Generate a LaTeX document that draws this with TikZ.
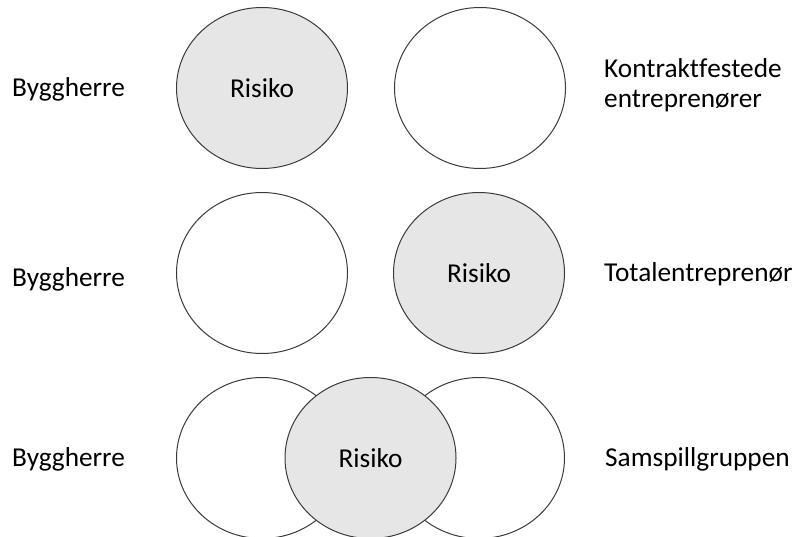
\documentclass[tikz,border=0pt]{standalone}
\usepackage{fontspec}
\setmainfont[Ligatures={NoCommon}]{Carlito}
\usetikzlibrary{shapes.geometric}
\definecolor{riskfill}{HTML}{E7E6E6}
\definecolor{edge}{HTML}{3A3A3A}
\tikzset{
  blob/.style={ellipse, draw=edge, line width=1pt, minimum width=171pt, minimum height=161pt, inner sep=0pt, font=\fontsize{27.3}{30}\selectfont},
  risk/.style={blob, fill=riskfill},
  plain/.style={blob, fill=white},
  lbl/.style={anchor=base west, inner sep=0pt, font=\fontsize{27.3}{30}\selectfont}
}
\begin{document}
\begin{tikzpicture}[x=1pt,y=-1pt]
\useasboundingbox (0,0) rectangle (799,537);
% row 1
\node[risk]  (r1a) at (262,88) {Risiko};
\node[plain] (r1b) at (480,88) {};
\node[lbl] (b1) at (12,97) {Byggherre};
\node[lbl] (k1) at (604,77.7) {\begin{tabular}[t]{@{}l@{}}Kontrakt\kern0ptf\kern0ptestede\\entreprenører\end{tabular}};
% row 2
\node[plain] (r2a) at (262,273) {};
\node[risk]  (r2b) at (479,273) {Risiko};
\node[lbl] (b2) at (12,286) {Byggherre};
\node[lbl] (t2) at (604,281) {Totalentreprenør};
% row 3
\node[plain] (r3a) at (262,458) {};
\node[plain] (r3b) at (479,458) {};
\node[risk]  (r3c) at (370.5,458) {Risiko};
\node[lbl] (b3) at (12,466.5) {Byggherre};
\node[lbl] (s3) at (605,466) {Samspillgruppen};
\end{tikzpicture}
\end{document}
